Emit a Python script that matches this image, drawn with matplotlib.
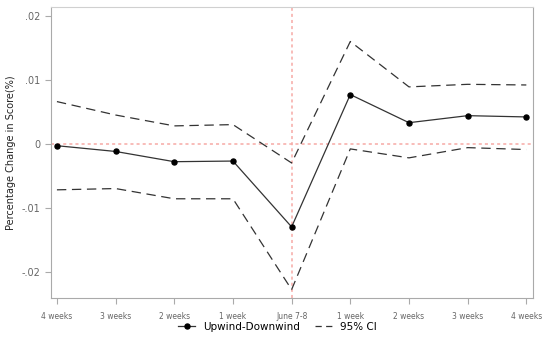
import matplotlib

matplotlib.use("Agg")

import matplotlib.pyplot as plt
from matplotlib.lines import Line2D

# Data
categories = ["4 weeks", "3 weeks", "2 weeks", "1 week", "June 7-8",
              "1 week", "2 weeks", "3 weeks", "4 weeks"]
estimate = [-0.0003, -0.0012, -0.0028, -0.0027, -0.0130,
            0.0077, 0.0033, 0.0044, 0.0042]
ci_upper = [0.0066, 0.0045, 0.0028, 0.0030, -0.0030,
            0.0160, 0.0089, 0.0093, 0.0092]
ci_lower = [-0.0072, -0.0070, -0.0086, -0.0086, -0.0228,
            -0.0008, -0.0022, -0.0006, -0.0009]
yticks = [0.02, 0.01, 0.0, -0.01, -0.02]
ytick_labels = [".02", ".01", "0", "-.01", "-.02"]

REF = "#f7aaa5"

fig = plt.figure(figsize=(5.55, 3.48), dpi=100)
ax = fig.add_axes([0.092, 0.144, 0.869, 0.836])

x = list(range(len(categories)))

ax.axhline(0, color=REF, lw=1.1, ls=(0, (2, 2)), zorder=1)
ax.axvline(4, color=REF, lw=1.1, ls=(0, (2, 2)), zorder=1)

ax.plot(x, estimate, color="#333333", lw=0.9, marker="o", ms=3.6,
        mfc="black", mec="black", zorder=3)
ax.plot(x, ci_upper, color="#333333", lw=0.9, ls=(0, (7.5, 4.5)), zorder=2)
ax.plot(x, ci_lower, color="#333333", lw=0.9, ls=(0, (7.5, 4.5)), zorder=2)

ax.set_xlim(-0.1, 8.12)
ax.set_ylim(-0.0241, 0.0214)
ax.set_xticks(x)
ax.set_xticklabels(categories, fontsize=5.5, color="#666666")
ax.set_yticks(yticks)
ax.set_yticklabels(ytick_labels, fontsize=7, color="#666666")
ax.set_ylabel("Percentage Change in Score(%)", fontsize=7, color="#222222")

for side in ("left", "bottom", "right"):
    ax.spines[side].set_color("#aaaaaa")
    ax.spines[side].set_linewidth(0.8)
ax.spines["top"].set_color("#d0d0d0")
ax.spines["top"].set_linewidth(0.8)
ax.tick_params(axis="both", colors="#aaaaaa", length=4, width=0.8)
ax.tick_params(axis="x", labelcolor="#666666", pad=6)
ax.tick_params(axis="y", labelcolor="#666666")

# legend proxies: the CI handle uses shorter dashes so two fit in the key
handles = [
    Line2D([], [], color="#333333", lw=0.9, marker="o", ms=3.6,
           mfc="black", mec="black"),
    Line2D([], [], color="#333333", lw=0.9, ls=(0, (5, 3.5))),
]
fig.legend(handles, ["Upwind-Downwind", "95% CI"], loc="lower center",
           bbox_to_anchor=(0.5, 0.02), ncol=2, frameon=False, fontsize=7.5,
           handlelength=1.6, columnspacing=1.4, handletextpad=0.8)

fig.savefig("out.png", dpi=100, facecolor="white")
plt.close(fig)
